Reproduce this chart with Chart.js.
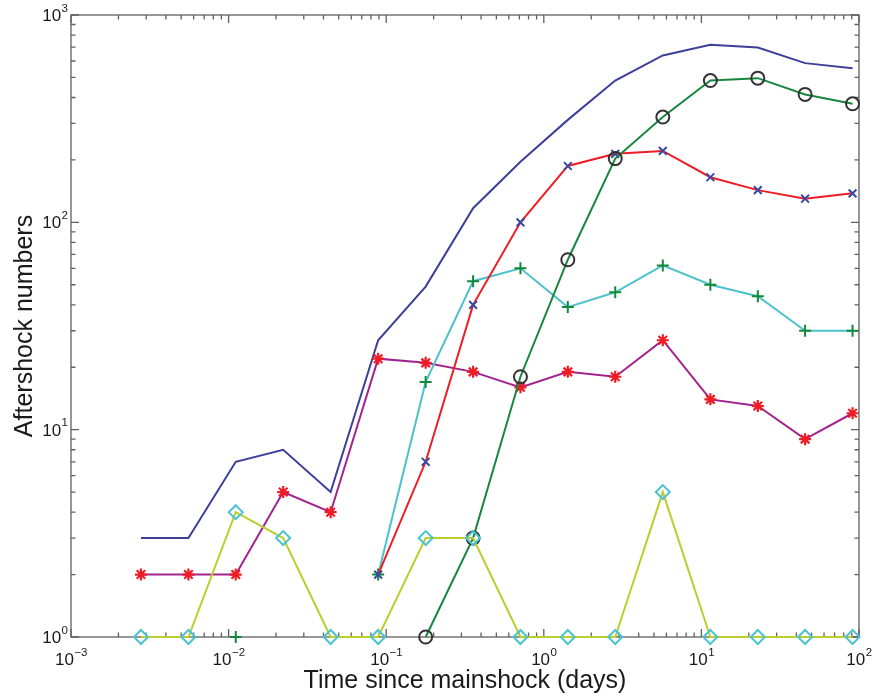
<!DOCTYPE html>
<html>
<head>
  <meta charset="UTF-8">
  <title>Aftershock numbers</title>
  <script src="https://cdn.jsdelivr.net/npm/chart.js"></script>
  <style>
    html, body { margin: 0; padding: 0; background: #fff; }
    canvas { display: block; }
  </style>
</head>
<body>
  <canvas id="chart" width="872" height="700"></canvas>

  <script>
    // time bins double from 4 minutes onward (in days)
    const days = [0.00278, 0.00556, 0.0111, 0.0222, 0.0444, 0.0889, 0.178, 0.356,
                  0.711, 1.42, 2.84, 5.69, 11.4, 22.8, 45.5, 91.0];

    const totalCounts   = [3, 3, 7, 8, 5, 27, 49, 117, 196, 312, 483, 638, 718, 697, 586, 554];
    const starCounts    = [2, 2, 2, 5, 4, 22, 21, 19, 16, 19, 18, 27, 14, 13, 9, 12];
    const plusCounts    = [null, null, 1, null, null, 2, 17, 52, 60, 39, 46, 62, 50, 44, 30, 30];
    const crossCounts   = [null, null, null, null, null, 2, 7, 40, 100, 187, 214, 221, 165, 143, 130, 138];
    const circleCounts  = [null, null, null, null, null, null, 1, 3, 18, 66, 203, 322, 483, 496, 414, 373];
    const diamondCounts = [1, 1, 4, 3, 1, 1, 3, 3, 1, 1, 1, 5, 1, 1, 1, 1];

    // axis decades, labelled as powers of ten
    const xDecades = [-3, -2, -1, 0, 1, 2];
    const yDecades = [0, 1, 2, 3];

    const xTitle = 'Time since mainshock (days)';
    const yTitle = 'Aftershock numbers';

    function points(values) {
      return days.map((d, i) => ({ x: d, y: values[i] }));
    }

    function minus(n) {
      return n < 0 ? '\u2212' + Math.abs(n) : String(n);
    }

    // box, inward ticks on all four sides, and 10^n labels
    const logAxes = {
      id: 'logAxes',
      beforeDatasetsDraw(chart) {
        const { ctx, chartArea: a, scales: { x, y } } = chart;
        ctx.save();
        ctx.strokeStyle = '#606060';
        ctx.lineWidth = 1.3;
        ctx.strokeRect(a.left, a.top, a.right - a.left, a.bottom - a.top);
        ctx.beginPath();
        const major = 8, minor = 4.5;
        xDecades.forEach((d, i) => {
          for (let k = 1; k < 10; k++) {
            if (k > 1 && i === xDecades.length - 1) break;
            const px = x.getPixelForValue(k * Math.pow(10, d));
            const len = k === 1 ? major : minor;
            ctx.moveTo(px, a.bottom); ctx.lineTo(px, a.bottom - len);
            ctx.moveTo(px, a.top); ctx.lineTo(px, a.top + len);
          }
        });
        yDecades.forEach((d, i) => {
          for (let k = 1; k < 10; k++) {
            if (k > 1 && i === yDecades.length - 1) break;
            const py = y.getPixelForValue(k * Math.pow(10, d));
            const len = k === 1 ? major : minor;
            ctx.moveTo(a.left, py); ctx.lineTo(a.left + len, py);
            ctx.moveTo(a.right, py); ctx.lineTo(a.right - len, py);
          }
        });
        ctx.stroke();
        ctx.restore();
      },
      afterDraw(chart) {
        const { ctx, chartArea: a, scales: { x, y } } = chart;
        const base = '17px "Liberation Sans", Arial, sans-serif';
        const sup = '11.5px "Liberation Sans", Arial, sans-serif';
        ctx.save();
        ctx.fillStyle = '#1a1a1a';
        ctx.textBaseline = 'alphabetic';
        ctx.textAlign = 'left';

        function widths(e) {
          ctx.font = base;
          const w1 = ctx.measureText('10').width;
          ctx.font = sup;
          const w2 = ctx.measureText(minus(e)).width;
          return [w1, w2];
        }
        function put(e, left, baseY) {
          const [w1] = widths(e);
          ctx.font = base;
          ctx.fillText('10', left, baseY);
          ctx.font = sup;
          ctx.fillText(minus(e), left + w1 + 0.5, baseY - 9.5);
        }

        xDecades.forEach(d => {
          const px = x.getPixelForValue(Math.pow(10, d));
          const [w1, w2] = widths(d);
          put(d, px - (w1 + w2) / 2, a.bottom + 28);
        });
        yDecades.forEach(d => {
          const py = y.getPixelForValue(Math.pow(10, d));
          const [w1, w2] = widths(d);
          put(d, a.left - 3 - (w1 + w2 + 0.5), py + 6);
        });
        ctx.restore();
      }
    };

    const lineBase = { borderWidth: 2, tension: 0, clip: false, spanGaps: false,
                       pointBackgroundColor: 'rgba(0,0,0,0)', pointHoverRadius: 0 };

    new Chart(document.getElementById('chart'), {
      type: 'line',
      data: {
        datasets: [
          Object.assign({}, lineBase, {
            label: 'diamond', data: points(diamondCounts), order: 1,
            borderColor: '#bdcd2e', pointStyle: 'rectRot', pointRadius: 7,
            pointBorderColor: '#4cc3d2', pointBorderWidth: 2
          }),
          Object.assign({}, lineBase, {
            label: 'circle', data: points(circleCounts), order: 2,
            borderColor: '#17873d', pointStyle: 'circle', pointRadius: 6.5,
            pointBorderColor: '#333333', pointBorderWidth: 2
          }),
          Object.assign({}, lineBase, {
            label: 'cross', data: points(crossCounts), order: 3,
            borderColor: '#ee1c25', pointStyle: 'crossRot', pointRadius: 5.5,
            pointBorderColor: '#3a48a2', pointBorderWidth: 2
          }),
          Object.assign({}, lineBase, {
            label: 'plus', data: points(plusCounts), order: 4,
            borderColor: '#4ec2cc', pointStyle: 'cross', pointRadius: 6,
            pointBorderColor: '#12883b', pointBorderWidth: 2
          }),
          Object.assign({}, lineBase, {
            label: 'star', data: points(starCounts), order: 5,
            borderColor: '#a3238f', pointStyle: 'star', pointRadius: 6,
            pointBorderColor: '#ee1c25', pointBorderWidth: 2.2
          }),
          Object.assign({}, lineBase, {
            label: 'total', data: points(totalCounts), order: 6,
            borderColor: '#3d3f9a', pointRadius: 0
          })
        ]
      },
      options: {
        responsive: false,
        animation: false,
        events: [],
        layout: { padding: { left: 0, top: 15, right: 13, bottom: 0 } },
        plugins: { legend: { display: false }, tooltip: { enabled: false } },
        scales: {
          x: {
            type: 'logarithmic', min: 1e-3, max: 1e2,
            grid: { display: false, drawTicks: false },
            border: { display: false },
            ticks: { display: false },
            title: {
              display: true, text: xTitle, color: '#1a1a1a',
              font: { family: '"Liberation Sans", Arial, sans-serif', size: 25 },
              padding: { top: 0, bottom: 4 }
            },
            afterFit(scale) { scale.height = 63; }
          },
          y: {
            type: 'logarithmic', min: 1, max: 1e3,
            grid: { display: false, drawTicks: false },
            border: { display: false },
            ticks: { display: false },
            title: {
              display: true, text: yTitle, color: '#1a1a1a',
              font: { family: '"Liberation Sans", Arial, sans-serif', size: 25 },
              padding: { top: 10, bottom: 0 }
            },
            afterFit(scale) { scale.width = 71; }
          }
        }
      },
      plugins: [logAxes]
    });
  </script>
</body>
</html>
